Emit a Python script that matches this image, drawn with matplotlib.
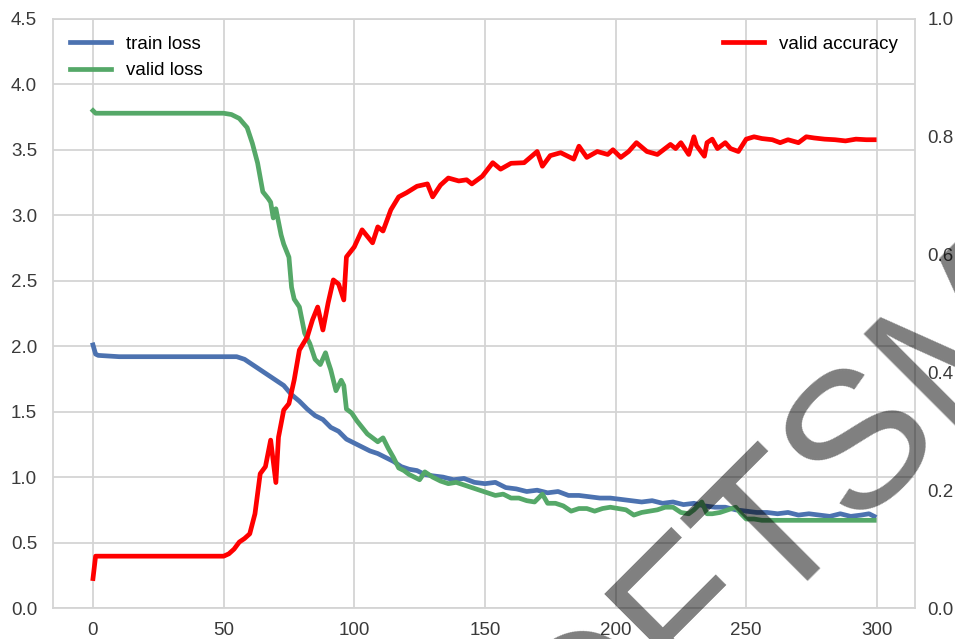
import numpy as np
import matplotlib
matplotlib.use('Agg')
import matplotlib.pyplot as plt

# 训练曲线数据
tl_epoch = [0, 1, 2, 10, 30, 50, 55, 58, 61, 64, 67, 70, 73, 76, 79,
            82, 85, 88, 91, 94, 97, 100, 103, 106, 109, 112, 115, 118, 121, 124,
            127, 130, 134, 138, 142, 146, 150, 154, 158, 162, 166, 170, 174, 178, 182,
            186, 190, 194, 198, 202, 206, 210, 214, 218, 222, 226, 230, 234, 238, 242,
            246, 250, 254, 258, 262, 266, 270, 274, 278, 282, 286, 290, 294, 297, 299]
train_loss = [2.01, 1.94, 1.93, 1.92, 1.92, 1.92, 1.92, 1.90, 1.86, 1.82, 1.78, 1.74, 1.70, 1.63, 1.58,
              1.52, 1.47, 1.44, 1.38, 1.35, 1.29, 1.26, 1.23, 1.20, 1.18, 1.15, 1.12, 1.08, 1.06, 1.05,
              1.02, 1.01, 1.00, 0.98, 0.99, 0.96, 0.95, 0.96, 0.92, 0.91, 0.89, 0.90, 0.88, 0.89, 0.86,
              0.86, 0.85, 0.84, 0.84, 0.83, 0.82, 0.81, 0.82, 0.80, 0.81, 0.79, 0.80, 0.78, 0.77, 0.77,
              0.75, 0.74, 0.73, 0.73, 0.72, 0.73, 0.71, 0.72, 0.71, 0.70, 0.72, 0.70, 0.71, 0.72, 0.70]

vl_epoch = [0, 1, 10, 30, 50, 53, 56, 59, 61, 63,
            65, 67, 68, 69, 70, 72, 73, 75, 76, 77,
            79, 81, 83, 85, 87, 89, 90, 91, 93, 95,
            96, 97, 99, 101, 103, 105, 107, 109, 111, 113,
            115, 117, 119, 121, 123, 125, 127, 130, 133, 136,
            139, 142, 145, 148, 151, 154, 157, 160, 163, 166,
            169, 172, 174, 177, 180, 183, 186, 189, 192, 195,
            198, 201, 204, 207, 210, 213, 216, 219, 222, 225,
            228, 230, 233, 235, 237, 240, 243, 246, 248, 250,
            253, 256, 260, 265, 270, 275, 280, 285, 290, 295, 299]
valid_loss = [3.80, 3.78, 3.78, 3.78, 3.78, 3.77, 3.74, 3.67, 3.55, 3.40,
              3.18, 3.13, 3.10, 2.98, 3.05, 2.85, 2.78, 2.68, 2.45, 2.36,
              2.30, 2.10, 2.02, 1.90, 1.86, 1.95, 1.88, 1.82, 1.66, 1.74,
              1.70, 1.52, 1.49, 1.43, 1.38, 1.33, 1.30, 1.27, 1.30, 1.22,
              1.15, 1.07, 1.05, 1.02, 1.00, 0.98, 1.04, 1.00, 0.97, 0.95,
              0.96, 0.94, 0.92, 0.90, 0.88, 0.86, 0.87, 0.84, 0.84, 0.82,
              0.81, 0.87, 0.80, 0.80, 0.78, 0.74, 0.76, 0.76, 0.74, 0.76,
              0.77, 0.76, 0.75, 0.71, 0.73, 0.74, 0.75, 0.77, 0.77, 0.73,
              0.72, 0.75, 0.81, 0.72, 0.72, 0.73, 0.75, 0.77, 0.72, 0.68,
              0.68, 0.67, 0.67, 0.67, 0.67, 0.67, 0.67, 0.67, 0.67, 0.67, 0.67]

va_epoch = [0, 1, 10, 30, 50, 52, 54, 56, 58, 60,
            62, 64, 66, 68, 70, 71, 73, 75, 77, 79,
            82, 84, 86, 88, 90, 92, 94, 96, 97, 100,
            103, 107, 109, 111, 114, 117, 120, 124, 128, 130,
            133, 136, 140, 143, 145, 149, 153, 156, 160, 165,
            170, 172, 175, 179, 184, 186, 189, 193, 197, 199,
            202, 205, 208, 212, 216, 221, 223, 225, 228, 230,
            231, 234, 235, 237, 239, 242, 244, 247, 250, 253,
            256, 260, 263, 266, 270, 273, 276, 280, 284, 288,
            292, 296, 299]
valid_acc = [0.05, 0.088, 0.088, 0.088, 0.088, 0.092, 0.10, 0.112, 0.118, 0.126,
             0.16, 0.228, 0.24, 0.285, 0.213, 0.29, 0.336, 0.347, 0.387, 0.438,
             0.46, 0.489, 0.511, 0.472, 0.518, 0.557, 0.55, 0.523, 0.596, 0.613,
             0.642, 0.62, 0.647, 0.64, 0.676, 0.698, 0.705, 0.716, 0.72, 0.698,
             0.718, 0.73, 0.725, 0.727, 0.72, 0.733, 0.756, 0.745, 0.755, 0.756,
             0.775, 0.75, 0.768, 0.773, 0.762, 0.784, 0.765, 0.775, 0.77, 0.778,
             0.765, 0.775, 0.79, 0.775, 0.77, 0.787, 0.78, 0.79, 0.77, 0.80,
             0.785, 0.767, 0.79, 0.796, 0.78, 0.79, 0.78, 0.775, 0.796, 0.80,
             0.797, 0.795, 0.79, 0.795, 0.79, 0.80, 0.798, 0.796, 0.795, 0.793,
             0.796, 0.795, 0.795]

plt.rcParams['font.family'] = ['Liberation Sans', 'DejaVu Sans']
grid_c = '#d4d4d4'
text_c = '#3a3a3a'

fig = plt.figure(figsize=(9.55, 6.39), dpi=100)
ax = fig.add_axes([0.0555, 0.0485, 0.9026, 0.9218])
ax.plot(tl_epoch, train_loss, color='#4c72b0', lw=3.4, label='train loss')
ax.plot(vl_epoch, valid_loss, color='#55a868', lw=3.4, label='valid loss')
ax.set_ylim(0, 4.5)
ax.set_yticks(np.arange(0, 4.51, 0.5))
ax.set_xticks([0, 50, 100, 150, 200, 250, 300])
ax.grid(True, color=grid_c, lw=1.3)
ax.set_axisbelow(True)
for s in ax.spines.values():
    s.set_color(grid_c)
    s.set_linewidth(1.3)
ax.tick_params(axis='y', length=0, labelsize=13.5, labelcolor=text_c, pad=11.5)
ax.tick_params(axis='x', length=0, labelsize=13.5, labelcolor=text_c, pad=10)
ax.legend(loc='upper left', fontsize=13.5, frameon=False, handlelength=2.2,
          labelspacing=0.5)

ax2 = ax.twinx()
ax2.plot(va_epoch, valid_acc, color='red', lw=3.4, label='valid accuracy')
ax2.set_ylim(0, 1.0)
ax2.set_yticks([0.0, 0.2, 0.4, 0.6, 0.8, 1.0])
ax2.grid(False)
for s in ax2.spines.values():
    s.set_visible(False)
ax2.tick_params(length=0, labelsize=13.5, labelcolor=text_c, pad=9)
ax2.legend(loc='upper right', fontsize=13.5, frameon=False, handlelength=2.2)
ax.set_xlim(-15.3, 314.6)

# 水印
wm = dict(fontsize=140, color='black', alpha=0.5, rotation=45,
          rotation_mode='anchor', va='baseline')
fig.text(0.716, -0.078, 'FTSM', ha='left', **wm)
fig.text(0.716, -0.078, 'O', ha='right', **wm)

fig.savefig('out.png', dpi=100)
